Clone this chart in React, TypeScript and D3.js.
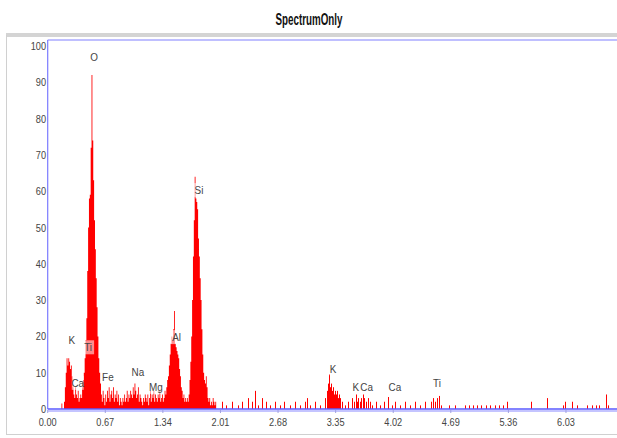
import React from 'react';
import * as d3 from 'd3';

const title = 'SpectrumOnly';
const yTicks = [0, 10, 20, 30, 40, 50, 60, 70, 80, 90, 100];
const xTicks = [0, 0.67, 1.34, 2.01, 2.68, 3.35, 4.02, 4.69, 5.36, 6.03];

// dense channels, 0.01 keV each, starting at 0.15 keV
const denseStart = 0.15;
const channelWidth = 0.01;
const denseCounts = [
  // 0.15 - 0.39 (K / Ca low)
  0, 1.5, 0, 0, 2, 6, 10, 14, 12, 14, 13, 11, 12, 9, 6, 4, 3, 6, 4, 3, 5, 2, 3, 4, 3,
  // 0.40 - 0.64 (O)
  6, 8, 10, 14, 19, 25, 38, 50, 58, 59, 72, 92, 74, 63, 52, 44, 36, 28, 20, 14, 10, 7, 4, 2, 5,
  // 0.65 - 1.39 (Fe, Na, Mg)
  3, 1, 4, 2, 5, 3, 6, 2, 4, 5, 3, 6, 2, 4, 3, 5, 2, 4, 1, 3, 2, 1, 3, 2, 4,
  2, 3, 5, 2, 4, 3, 5, 4, 3, 6, 4, 7, 5, 3, 4, 6, 2, 4, 3, 2, 1, 3, 2, 4, 3,
  2, 4, 1, 3, 5, 2, 4, 3, 5, 2, 4, 3, 2, 4, 3, 5, 2, 3, 4, 2, 3, 5, 4, 6, 8,
  // 1.40 - 1.63 (Al)
  9, 12, 15, 18, 20, 19, 22, 27, 18, 17, 16, 15, 14, 11, 9, 6, 5, 3, 4, 2, 3, 2, 3, 2,
  // 1.64 - 1.95 (Si)
  4, 8, 13, 20, 30, 42, 52, 64, 58, 57, 55, 47, 42, 36, 30, 22, 15, 10, 8, 7, 9, 6, 3, 2, 3, 1, 2, 1, 3, 2, 1, 2,
];

// sparse channels beyond 2 keV
const sparseEnergies = [
  2.03, 2.07, 2.14, 2.21, 2.26, 2.33, 2.38, 2.41, 2.45, 2.49, 2.54, 2.59, 2.64, 2.70, 2.75, 2.82, 2.88, 2.94, 2.99, 3.02, 3.05, 3.11, 3.17,
  3.23, 3.25, 3.26, 3.27, 3.28, 3.30, 3.31, 3.32, 3.33, 3.34, 3.35, 3.37, 3.38, 3.39, 3.40, 3.42,
  3.46, 3.49, 3.54, 3.56, 3.59, 3.60, 3.61, 3.63, 3.65, 3.67, 3.68, 3.70, 3.73, 3.75, 3.77, 3.82, 3.87, 3.91, 3.96, 4.00,
  4.04, 4.10, 4.16, 4.22, 4.27, 4.33, 4.39, 4.46, 4.48, 4.51, 4.53, 4.55, 4.58, 4.67, 4.74, 4.86, 4.90, 4.95, 5.00,
  5.04, 5.10, 5.15, 5.20, 5.25, 5.30, 5.34, 5.62, 5.81, 5.99, 6.02, 6.10, 6.16, 6.27, 6.33, 6.38, 6.42, 6.49, 6.52,
];
const sparseCounts = [
  2, 1, 2, 1, 2, 3, 2, 5, 1, 3, 2, 1, 2, 1, 2, 1, 2, 1, 2, 3, 1, 2, 1,
  3, 5, 7, 9.5, 6, 7, 5, 6, 4, 5, 4, 5, 3, 4, 3, 2,
  1, 2, 3, 2, 4, 2, 3, 2, 3, 4, 3, 2, 3, 2, 1, 2, 1, 2, 3.3, 1,
  2, 1, 2, 1, 2, 1, 2, 2, 3, 2, 3, 3.6, 1, 1, 1, 1, 1, 1, 1,
  1, 1, 1, 1, 1, 1, 2, 2, 3, 1, 2, 2, 1, 1, 1, 1, 1, 4, 1,
];

const peakLabels = ['O', 'Si', 'Al', 'K', 'Ti', 'Ca', 'Fe', 'Na', 'Mg', 'K', 'K', 'Ca', 'Ca', 'Ti'];
const peakLabelEnergy = [0.54, 1.76, 1.50, 0.28, 0.47, 0.35, 0.70, 1.05, 1.26, 3.32, 3.585, 3.71, 4.04, 4.53];
const peakLabelLevel = [97, 60.3, 19.8, 19, 17, 7.2, 8.8, 10.2, 6.1, 11, 6.1, 6.1, 6.1, 7.2];

const W = 617;
const H = 438;
const plotLeft = 47.7;
const plotTop = 40;
const plotBottom = 409;
const plotRight = 660;

export default function App() {
  const x = d3.scaleLinear().domain([0, 7.13]).range([plotLeft, plotLeft + 85.95 * 7.13]);
  const y = d3.scaleLinear().domain([0, 100]).range([plotBottom, 46]);

  const dense = denseCounts.map((v, i) => ({ e: denseStart + i * channelWidth, v }));
  dense.push({ e: denseStart + denseCounts.length * channelWidth, v: 0 });
  const area = d3
    .area<{ e: number; v: number }>()
    .x((d) => x(d.e))
    .y0(y(0))
    .y1((d) => y(d.v))
    .curve(d3.curveStepAfter);

  const tickFont = "'Liberation Sans', Arial, sans-serif";
  const labelFont = "'Liberation Sans', Arial, sans-serif";
  const sx = 0.8;

  return (
    <svg width={W} height={H} style={{ position: 'absolute', left: 0, top: 0, background: '#fff' }}>
      <defs>
        <clipPath id="plotclip">
          <rect x={plotLeft} y={plotTop} width={plotRight - plotLeft} height={plotBottom - plotTop} />
        </clipPath>
      </defs>
      {/* title */}
      <text
        x={309}
        y={25}
        textAnchor="middle"
        fontFamily={tickFont}
        fontWeight="bold"
        fontSize={17}
        fill="#111"
        textLength={67}
        lengthAdjust="spacingAndGlyphs"
      >
        {title}
      </text>
      {/* outer frame */}
      <rect x={6} y={33} width={W} height={4} fill="#d4d4d4" />
      <line x1={6.5} y1={35} x2={6.5} y2={435} stroke="#d0d0d0" strokeWidth={1} />
      <line x1={6} y1={434.5} x2={W} y2={434.5} stroke="#d0d0d0" strokeWidth={1} />

      {/* spectrum */}
      <g clipPath="url(#plotclip)">
        <path d={area(dense) || ''} fill="#ff0000" />
        {sparseEnergies.map((e, i) => (
          <rect
            key={i}
            x={Math.round(x(e))}
            y={y(sparseCounts[i])}
            width={1}
            height={y(0) - y(sparseCounts[i])}
            fill="#ff0000"
          />
        ))}
      </g>

      {/* plot border */}
      <line x1={plotLeft} y1={plotTop} x2={plotLeft} y2={plotBottom} stroke="#7b7bff" strokeWidth={1.2} />
      <line x1={plotLeft} y1={plotTop} x2={plotRight} y2={plotTop} stroke="#8080ff" strokeWidth={1.2} />
      <rect x={plotLeft} y={plotBottom + 1} width={plotRight - plotLeft} height={2} fill="#c4c4ff" />
      <line x1={plotLeft} y1={plotBottom} x2={plotRight} y2={plotBottom} stroke="#5a5aff" strokeWidth={1.6} />

      {/* x ticks */}
      {xTicks.map((t) => (
        <g key={t}>
          <line x1={x(t)} y1={plotBottom + 1} x2={x(t)} y2={plotBottom + 4} stroke="#a0a0e0" strokeWidth={1} />
          <text
            transform={`translate(${x(t)},${426}) scale(${sx},1)`}
            textAnchor="middle"
            fontFamily={tickFont}
            fontSize={11.5}
            fill="#444"
          >
            {t.toFixed(2)}
          </text>
        </g>
      ))}
      {/* y ticks */}
      {yTicks.map((t) => (
        <text
          key={t}
          transform={`translate(46,${y(t) + 4}) scale(${sx},1)`}
          textAnchor="end"
          fontFamily={tickFont}
          fontSize={11.5}
          fill="#444"
        >
          {t}
        </text>
      ))}

      {/* peak labels */}
      {peakLabels.map((lab, i) => {
        const cx = x(peakLabelEnergy[i]);
        const cy = y(peakLabelLevel[i]);
        const w = lab.length * 5.5 + 1;
        return (
          <g key={i}>
            <rect x={cx - w / 2} y={cy - 7} width={w} height={14} fill="#ffffff" fillOpacity={0.55} />
            <text
              transform={`translate(${cx},${cy + 4}) scale(0.9,1)`}
              textAnchor="middle"
              fontFamily={labelFont}
              fontSize={11}
              fill="#444"
            >
              {lab}
            </text>
          </g>
        );
      })}
    </svg>
  );
}
